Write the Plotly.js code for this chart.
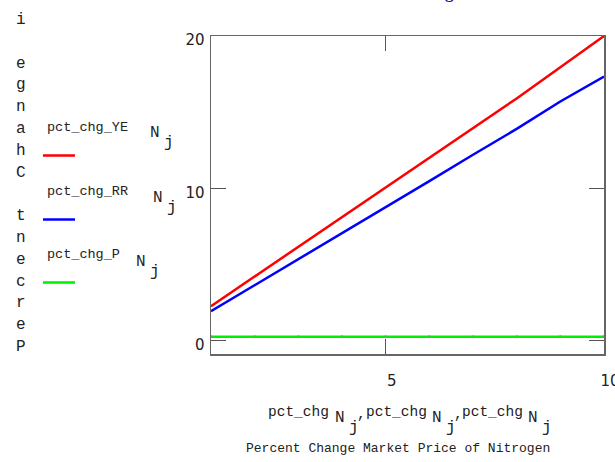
<!DOCTYPE html>
<html>
<head>
<meta charset="utf-8">
<script src="https://cdn.plot.ly/plotly-3.0.1.min.js"></script>
<style>html,body{margin:0;padding:0;background:#fff;overflow:hidden;}#chart{width:615px;height:462px;}</style>
</head>
<body>
<div id="chart"></div>
<script>
// Data
const xValues = [1, 2, 3, 4, 5, 6, 7, 8, 9, 10];
const pctChgYE = [2.26, 4.2, 6.15, 8.1, 10.05, 12.0, 13.95, 15.9, 17.95, 20.0];
const pctChgRR = [1.93, 3.63, 5.33, 7.03, 8.75, 10.47, 12.2, 13.9, 15.7, 17.34];
const pctChgP  = [0.25, 0.25, 0.25, 0.25, 0.25, 0.25, 0.25, 0.25, 0.25, 0.25];
const seriesNames = ["pct_chg_YE", "pct_chg_RR", "pct_chg_P"];
const xTicks = [5, 10];
const yTicks = [0, 10, 20];
const yTitleText = "Percent Change i";
const xTitleVar = "pct_chg";
const xTitleLine2 = "Percent Change Market Price of Nitrogen";

// plot area in pixels
const L = 211, R = 604, T = 36, B = 354;
const W = 615, H = 462;
const px = x => (x - L) / (R - L);
const py = y => (B - y) / (B - T);

const mono = "Liberation Mono, DejaVu Sans Mono, monospace";
const colors = ["#ff0000", "#0000ff", "#00ee00"];
const ser = [pctChgYE, pctChgRR, pctChgP];

const traces = ser.map((v, i) => ({
  x: xValues, y: v, type: "scatter",
  mode: i === 2 ? "lines+markers" : "lines",
  name: seriesNames[i],
  line: {color: colors[i], width: 2.5},
  marker: {color: "#33cc33", size: 3},
  showlegend: false, hoverinfo: "skip"
}));

const annotations = [];
const shapes = [];
function txt(s, x, y, size, anchor) {
  annotations.push({
    text: s, xref: "paper", yref: "paper", x: px(x), y: py(y),
    xanchor: anchor || "center", yanchor: "middle", showarrow: false,
    font: {family: mono, size: size, color: "#222"}
  });
}

// vertical stacked y-title (reads bottom to top)
yTitleText.split("").forEach((c, k) => {
  if (c === " ") return;
  txt(c, 21, 347 - k * 21.8, 16);
});

// legend-like labels on the left
const legTextY = [127, 191, 254];
const legN = [[155, 133], [158, 198], [141, 262]];
seriesNames.forEach((n, i) => {
  txt(n, 45, legTextY[i], 13.5, "left");
  txt("N", legN[i][0], legN[i][1], 16);
  txt("j", legN[i][0] + 14, legN[i][1] + 10, 16);
  const ly = legTextY[i] + 28.5;
  shapes.push({
    type: "line", xref: "paper", yref: "paper",
    x0: px(43), x1: px(75), y0: py(ly), y1: py(ly),
    line: {color: colors[i], width: 2.5}
  });
});

// x-axis title, first line: three pieces of pct_chg N j
const pieceStart = [267, 365, 461];
const pieceN = [340, 437, 533];
pieceStart.forEach((s, k) => {
  txt(xTitleVar, s - 1, 412, 14.5, "left");
  txt("N", pieceN[k], 418, 16);
  txt("j", pieceN[k] + 14, 428, 16);
  if (k < 2) txt(",", pieceN[k] + 21, 414, 14.5);
});
txt(xTitleLine2, 398, 448, 13);

// clipped chart title at the very top
annotations.push({
  text: "<b>g</b>", xref: "paper", yref: "paper", x: px(449), y: py(-8),
  xanchor: "center", yanchor: "middle", showarrow: false,
  font: {family: "Liberation Serif, serif", size: 17, color: "#1a1aa0"}
});

const axisCommon = {
  showline: true, linecolor: "#666", linewidth: 1.5, mirror: "ticks",
  ticks: "inside", ticklen: 15, tickwidth: 1.5, tickcolor: "#555",
  showgrid: false, zeroline: false, ticklabeloverflow: "allow",
  tickfont: {family: "DejaVu Sans, sans-serif", size: 15, color: "#222"}
};

const layout = {
  width: W, height: H,
  margin: {l: L, r: W - R, t: T, b: H - B, pad: 0},
  paper_bgcolor: "#fff", plot_bgcolor: "#fff",
  showlegend: false,
  xaxis: Object.assign({}, axisCommon, {
    range: [1, 10], tickmode: "array", tickvals: xTicks, ticktext: xTicks.map(String),
    ticklabelstandoff: 12, ticklabelshift: 6
  }),
  yaxis: Object.assign({}, axisCommon, {
    range: [-0.88, 20], tickmode: "array", tickvals: yTicks, ticktext: yTicks.map(String),
    ticklabelstandoff: 2, ticklabelshift: 4
  }),
  annotations: annotations,
  shapes: shapes
};

Plotly.newPlot("chart", traces, layout, {staticPlot: true, displayModeBar: false});
</script>
</body>
</html>
